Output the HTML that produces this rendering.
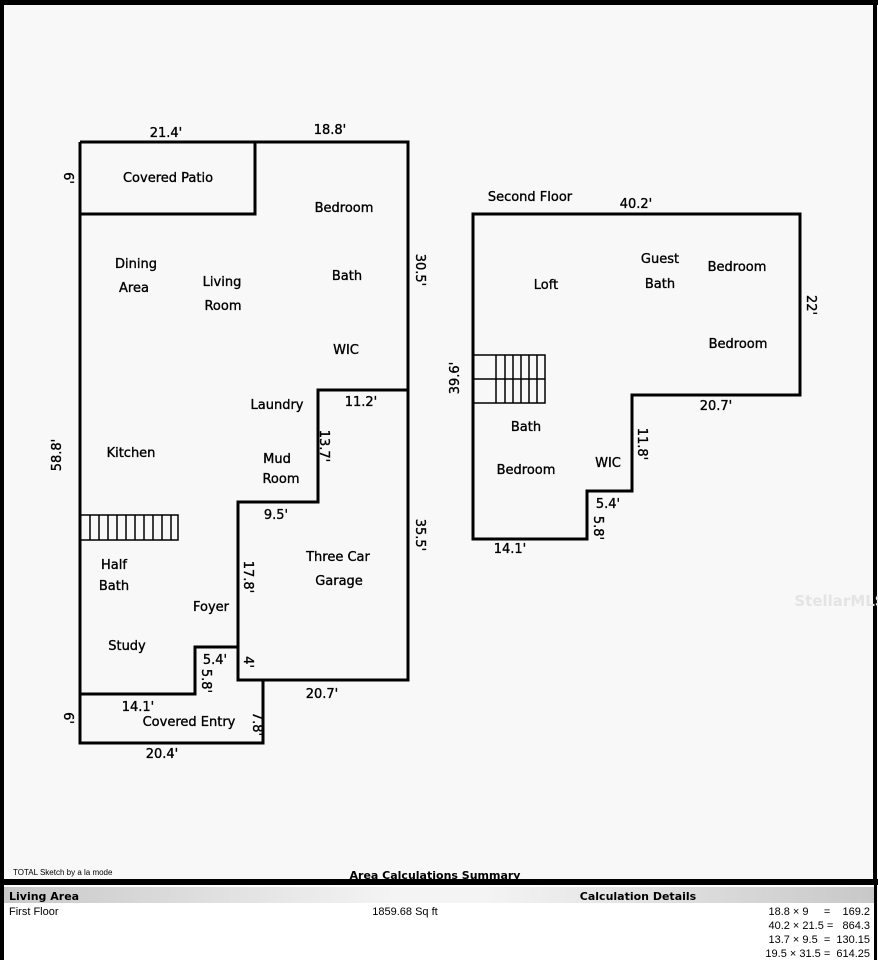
<!DOCTYPE html>
<html><head><meta charset="utf-8"><style>
html,body{margin:0;padding:0;background:#fff;}
svg{display:block}
text{font-family:"DejaVu Sans","Liberation Sans",sans-serif;font-size:13px;fill:#000;stroke:#000;stroke-width:0.35px;}
.s{font-size:11px;font-weight:bold;stroke-width:0}
.t{font-family:"Liberation Sans",sans-serif;font-size:10px;stroke-width:0}
.c{font-family:"Liberation Sans",sans-serif;font-size:11px;stroke-width:0;white-space:pre}
</style></head><body>
<svg width="878" height="960" viewBox="0 0 878 960" xmlns="http://www.w3.org/2000/svg">
<defs><linearGradient id="g" x1="0" x2="1"><stop offset="0" stop-color="#c8c8c8"/><stop offset="0.45" stop-color="#f4f4f4"/><stop offset="0.55" stop-color="#f4f4f4"/><stop offset="1" stop-color="#c8c8c8"/></linearGradient></defs>
<rect x="0" y="0" width="878" height="960" fill="#f8f8f8"/>
<rect x="2" y="2" width="873" height="956" fill="none" stroke="#000" stroke-width="4"/>
<rect x="0" y="0" width="878" height="5" fill="#000"/>
<rect x="0" y="879" width="878" height="6" fill="#000"/>
<rect x="4" y="885" width="870" height="75" fill="#fff"/>
<rect x="4" y="887" width="870" height="16" fill="url(#g)"/>
<g fill="none" stroke="#000" stroke-width="3">
<path d="M80,142 H408 V680 H238 V502 H318 V390 H408"/>
<path d="M255,142 V214 H80"/>
<path d="M80,142 V743 H263 V680"/>
<path d="M238,647 H195 V694 H80"/>
<path d="M238,647 V680"/>
<path d="M473,214 H800 V395 H632 V491 H587 V539 H473 Z"/>
</g>
<g fill="none" stroke="#000" stroke-width="1.5">
<rect x="80" y="515" width="98" height="25"/>
<path d="M90,515V540M99,515V540M108,515V540M117,515V540M126,515V540M135,515V540M144,515V540M153,515V540M162,515V540M171,515V540"/>
<rect x="473" y="355" width="72" height="48"/>
<path d="M496,355V403M505,355V403M513,355V403M521,355V403M529,355V403M537,355V403M473,379H545"/>
</g>
<g text-anchor="middle">
<text x="166" y="137">21.4'</text><text x="330" y="134">18.8'</text>
<text x="168" y="182">Covered Patio</text>
<text x="344" y="212">Bedroom</text>
<text x="136" y="268">Dining</text><text x="134" y="292">Area</text>
<text x="222" y="286">Living</text><text x="223" y="310">Room</text>
<text x="347" y="280">Bath</text><text x="346" y="354">WIC</text>
<text x="277" y="409">Laundry</text><text x="361" y="406">11.2'</text>
<text x="131" y="457">Kitchen</text>
<text x="277" y="463">Mud</text><text x="281" y="483">Room</text>
<text x="276" y="519">9.5'</text>
<text x="338" y="561">Three Car</text><text x="339" y="585">Garage</text>
<text x="114" y="569">Half</text><text x="114" y="590">Bath</text>
<text x="211" y="611">Foyer</text>
<text x="127" y="650">Study</text>
<text x="215" y="664">5.4'</text>
<text x="138" y="711">14.1'</text><text x="189" y="726">Covered Entry</text>
<text x="322" y="698">20.7'</text><text x="162" y="758">20.4'</text>
<text x="530" y="201">Second Floor</text><text x="636" y="208">40.2'</text>
<text x="546" y="289">Loft</text>
<text x="660" y="263">Guest</text><text x="660" y="288">Bath</text>
<text x="737" y="271">Bedroom</text><text x="738" y="348">Bedroom</text>
<text x="716" y="410">20.7'</text>
<text x="526" y="431">Bath</text><text x="526" y="474">Bedroom</text>
<text x="608" y="467">WIC</text><text x="608" y="508">5.4'</text>
<text x="510" y="553">14.1'</text>
<text transform="translate(64,178) rotate(90)">6'</text>
<text transform="translate(64,718) rotate(90)">6'</text>
<text transform="translate(61,455) rotate(-90)">58.8'</text>
<text transform="translate(416,270) rotate(90)">30.5'</text>
<text transform="translate(320,446) rotate(90)">13.7'</text>
<text transform="translate(416,535) rotate(90)">35.5'</text>
<text transform="translate(244,577) rotate(90)">17.8'</text>
<text transform="translate(244,662) rotate(90)">4'</text>
<text transform="translate(202,681) rotate(90)">5.8'</text>
<text transform="translate(253,724) rotate(90)">7.8'</text>
<text transform="translate(459,378) rotate(-90)">39.6'</text>
<text transform="translate(807,305) rotate(90)">22'</text>
<text transform="translate(638,444) rotate(90)">11.8'</text>
<text transform="translate(594,528) rotate(90)">5.8'</text>
</g>
<text x="840" y="606" text-anchor="middle" style="font-size:15px;fill:#e4e4e4;stroke:none;font-weight:bold">StellarMLS</text>
<text class="t" x="13" y="875" style="font-size:8px">TOTAL Sketch by a la mode</text>
<text class="s" x="435" y="879" text-anchor="middle">Area Calculations Summary</text>
<text class="s" x="9" y="900">Living Area</text>
<text class="s" x="638" y="900" text-anchor="middle">Calculation Details</text>
<text class="c" x="9" y="915">First Floor</text>
<text class="c" x="405" y="915" text-anchor="middle">1859.68 Sq ft</text>
<text class="c" x="870" y="915" text-anchor="end">18.8 × 9     =    169.2</text>
<text class="c" x="870" y="929" text-anchor="end">40.2 × 21.5 =   864.3</text>
<text class="c" x="870" y="943" text-anchor="end">13.7 × 9.5  =  130.15</text>
<text class="c" x="870" y="957" text-anchor="end">19.5 × 31.5 =  614.25</text>
</svg>
</body></html>
